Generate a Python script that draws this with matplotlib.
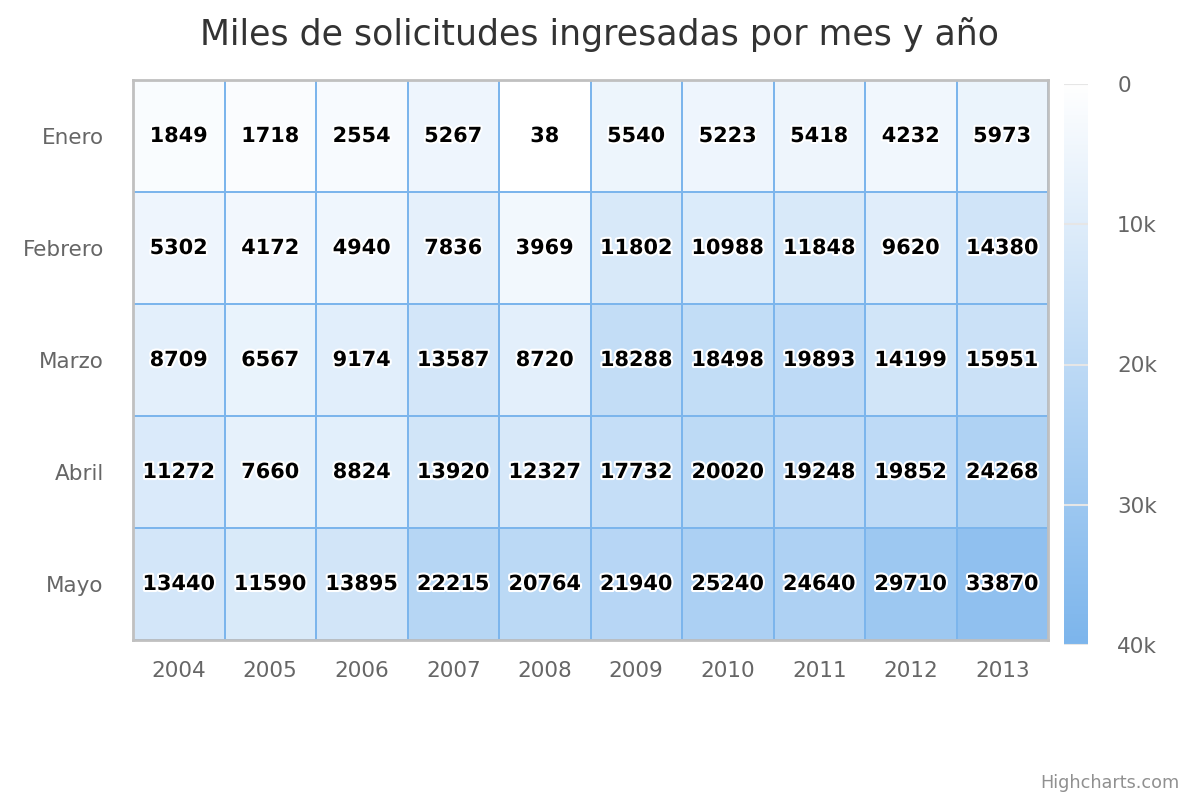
import numpy as np
import matplotlib
matplotlib.use("Agg")
import matplotlib.pyplot as plt
import matplotlib.patheffects as pe
from matplotlib.colors import LinearSegmentedColormap, Normalize

# Data
years = ['2004', '2005', '2006', '2007', '2008', '2009', '2010', '2011', '2012', '2013']
months = ['Enero', 'Febrero', 'Marzo', 'Abril', 'Mayo']

enero = [1849, 1718, 2554, 5267, 38, 5540, 5223, 5418, 4232, 5973]
febrero = [5302, 4172, 4940, 7836, 3969, 11802, 10988, 11848, 9620, 14380]
marzo = [8709, 6567, 9174, 13587, 8720, 18288, 18498, 19893, 14199, 15951]
abril = [11272, 7660, 8824, 13920, 12327, 17732, 20020, 19248, 19852, 24268]
mayo = [13440, 11590, 13895, 22215, 20764, 21940, 25240, 24640, 29710, 33870]

cbar_ticks = [0, 10000, 20000, 30000, 40000]
cbar_labels = ['0', '10k', '20k', '30k', '40k']

values = np.array([enero, febrero, marzo, abril, mayo])

cmap = LinearSegmentedColormap.from_list('hc', ['#ffffff', '#7cb5ec'])
norm = Normalize(vmin=0, vmax=40000)

fig = plt.figure(figsize=(12, 8), dpi=100)
fig.patch.set_facecolor('white')

# main heatmap
ax = fig.add_axes([133 / 1200, 1 - 640 / 800, 915 / 1200, 560 / 800])
ax.pcolormesh(values, cmap=cmap, norm=norm, edgecolors='#7cb5ec', linewidth=1.1)
ax.set_xlim(0, len(years))
ax.set_ylim(len(months), 0)

for i in range(len(months)):
    for j in range(len(years)):
        ax.text(j + 0.5, i + 0.5, str(values[i, j]), ha='center', va='center',
                fontsize=15, fontweight='bold', color='black',
                path_effects=[pe.withStroke(linewidth=3, foreground='white')])

ax.set_xticks(np.arange(len(years)) + 0.5)
ax.set_xticklabels(years)
ax.set_yticks(np.arange(len(months)) + 0.5)
ax.set_yticklabels(months)
ax.tick_params(length=0, labelsize=15.5, labelcolor='#666666')
ax.tick_params(axis='x', pad=15)
ax.tick_params(axis='y', pad=21)
for s in ax.spines.values():
    s.set_color('#c0c0c0')
    s.set_linewidth(2)

# colour legend
cax = fig.add_axes([1064 / 1200, 1 - 645 / 800, 24 / 1200, 561 / 800])
grad = np.linspace(0, 40000, 256).reshape(-1, 1)
cax.imshow(grad, aspect='auto', cmap=cmap, norm=norm,
           extent=[0, 1, 40000, 0])
cax.set_xlim(0, 1)
cax.set_ylim(40000, 0)
for t in cbar_ticks:
    cax.axhline(t, color='#e6e6e6', linewidth=1.5)
cax.set_xticks([])
cax.set_yticks(cbar_ticks)
cax.set_yticklabels(cbar_labels)
cax.yaxis.tick_right()
cax.tick_params(length=0, labelsize=15.5, labelcolor='#666666', pad=21)
for s in cax.spines.values():
    s.set_visible(False)

fig.text(0.5, 1 - 35 / 800, 'Miles de solicitudes ingresadas por mes y año',
         ha='center', va='center', fontsize=25, color='#333333')
fig.text(1180 / 1200, 1 - 783 / 800, 'Highcharts.com', ha='right', va='center',
         fontsize=12.7, color='#909090')

fig.savefig('out.png', dpi=100)
